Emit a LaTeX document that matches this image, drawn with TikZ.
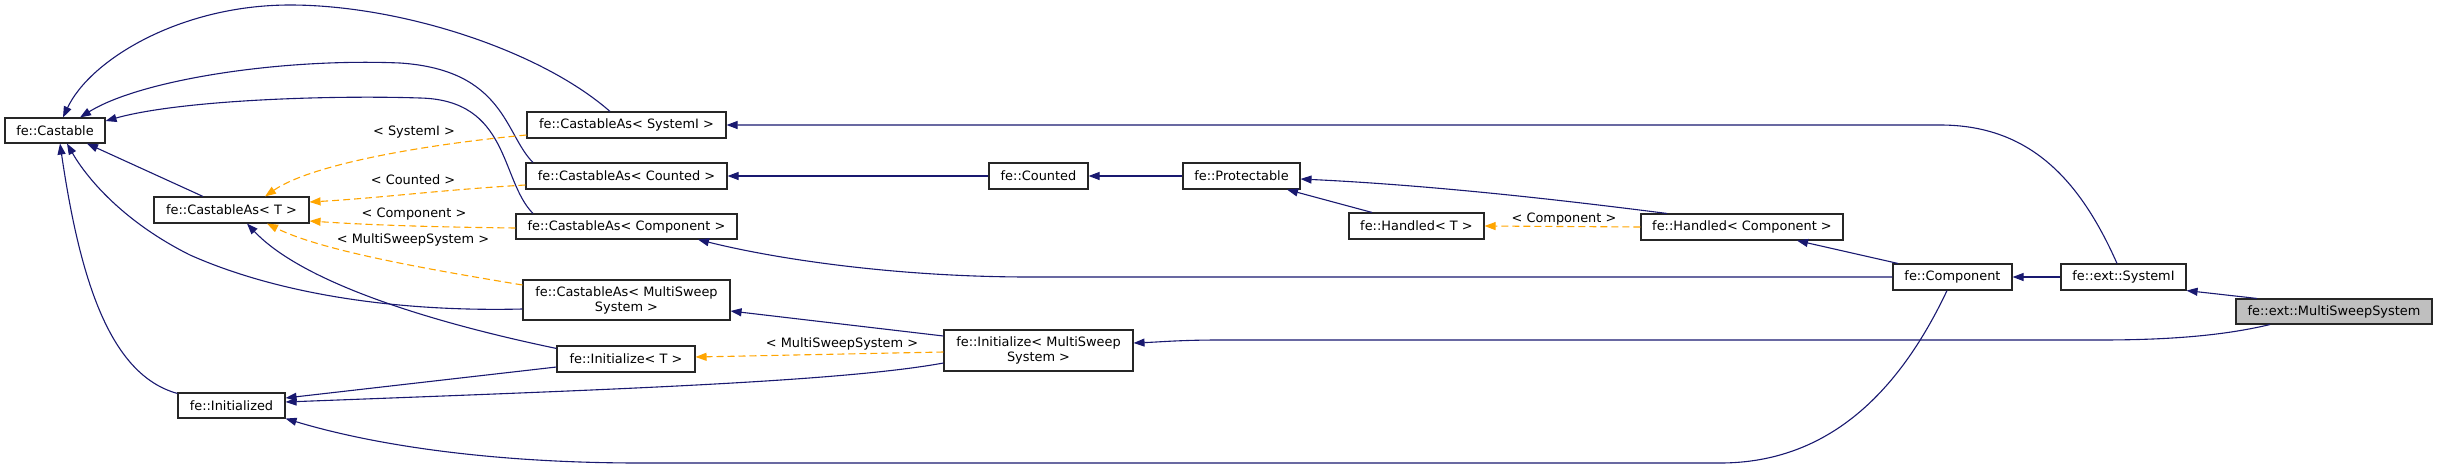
\documentclass[tikz,border=0pt]{standalone}
\usepackage{fontspec}
\setmainfont{DejaVu Sans}
\usetikzlibrary{arrows.meta}
\definecolor{edgeblue}{HTML}{191970}
\definecolor{tmplorange}{HTML}{FFA500}
\definecolor{nodegray}{HTML}{BFBFBF}
\begin{document}
\begin{tikzpicture}[x=1pt,y=-1pt,
  box/.style={draw=black!85, line width=1.1pt, fill=white, inner sep=0pt,
    font=\fontsize{12.9}{15}\selectfont, align=center},
  inh/.style={draw=edgeblue, line width=1.1pt, -{Triangle[length=11pt,width=8pt]}},
  tmpl/.style={draw=tmplorange, line width=1.1pt, dash pattern=on 7pt off 4pt,
    -{Triangle[length=11pt,width=8pt]}},
  lbl/.style={font=\fontsize{12.9}{15}\selectfont, inner sep=0pt}]
\useasboundingbox (0,0) rectangle (2437,469);

% nodes
\node[box, minimum width=100pt, minimum height=25pt] (castable) at (55,130.5) {fe::Castable};
\node[box, minimum width=155pt, minimum height=26pt] (castT) at (231.5,210) {fe::CastableAs< T >};
\node[box, minimum width=199pt, minimum height=26pt] (castSys) at (626.5,125) {fe::CastableAs< SystemI >};
\node[box, minimum width=201pt, minimum height=26pt] (castCnt) at (626.5,176) {fe::CastableAs< Counted >};
\node[box, minimum width=221pt, minimum height=25pt] (castComp) at (626.5,226.5) {fe::CastableAs< Component >};
\node[box, minimum width=207pt, minimum height=40pt] (castMSS) at (626.5,300) {fe::CastableAs< MultiSweep\\System >};
\node[box, minimum width=138pt, minimum height=26pt] (initT) at (626,359) {fe::Initialize< T >};
\node[box, minimum width=107pt, minimum height=25pt] (initd) at (231.5,405.5) {fe::Initialized};
\node[box, minimum width=99pt, minimum height=26pt] (counted) at (1038.5,176) {fe::Counted};
\node[box, minimum width=117pt, minimum height=26pt] (protect) at (1241.5,176) {fe::Protectable};
\node[box, minimum width=135pt, minimum height=26pt] (handT) at (1416.5,226) {fe::Handled< T >};
\node[box, minimum width=189pt, minimum height=41pt] (initMSS) at (1038.5,350.5) {fe::Initialize< MultiSweep\\System >};
\node[box, minimum width=202pt, minimum height=26pt] (handComp) at (1742,227) {fe::Handled< Component >};
\node[box, minimum width=119pt, minimum height=26pt] (comp) at (1952.5,277) {fe::Component};
\node[box, minimum width=125pt, minimum height=26pt] (sysI) at (2123.5,277) {fe::ext::SystemI};
\node[box, fill=nodegray, minimum width=196pt, minimum height=25pt] (mss) at (2334,311.5) {fe::ext::MultiSweepSystem};

% inheritance edges into fe::Castable
\draw[inh] ([xshift=-16.5pt]castSys.north) .. controls (540,50) and (400,5) .. (290,5)
  .. controls (180,5) and (90,60) .. ([xshift=8pt]castable.north);
\draw[inh] ([xshift=-93.5pt]castCnt.north) .. controls (505,135) and (505,70) .. (400,63)
  .. controls (280,58) and (140,80) .. ([xshift=25pt]castable.north);
\draw[inh] ([xshift=-93.5pt]castComp.north) .. controls (500,180) and (510,100) .. (420,98)
  .. controls (330,95) and (180,100) .. ([yshift=9.5pt]castable.east);
\draw[inh] ([xshift=-28.5pt]castT.north) -- ([xshift=32pt]castable.south);
\draw[inh] ([yshift=-9pt]castMSS.west) .. controls (400,312) and (280,295) .. (190,255)
  .. controls (120,220) and (85,175) .. ([xshift=12pt]castable.south);
\draw[inh] ([yshift=-1pt]initd.north west) .. controls (110,375) and (80,280) .. ([xshift=5pt]castable.south);

% into fe::CastableAs< T >
\draw[inh] ([yshift=-3pt]initT.north west) .. controls (420,320) and (300,280) .. ([xshift=15.5pt]castT.south);
\draw[tmpl] ([yshift=-10pt]castSys.west) .. controls (420,145) and (310,165) .. ([xshift=33.5pt]castT.north);
\draw[tmpl] ([yshift=-9pt]castCnt.west) .. controls (440,190) and (380,198) .. ([yshift=8pt]castT.east);
\draw[tmpl] ([yshift=-1.5pt]castComp.west) .. controls (430,227) and (370,225) .. ([yshift=-11pt]castT.east);
\draw[tmpl] ([yshift=15pt]castMSS.west) .. controls (420,268) and (320,250) .. ([xshift=35.5pt]castT.south);

\node[lbl] (lSys) at (414,132) {< SystemI >};
\node[lbl] (lCnt) at (413,180) {< Counted >};
\node[lbl] (lComp) at (414,214) {< Component >};
\node[lbl] (lMSS1) at (413,240) {< MultiSweepSystem >};

% Initialize edges
\draw[tmpl] ([yshift=-1.5pt]initMSS.west) -- ([yshift=2pt]initT.east);
\node[lbl] (lMSS2) at (842,344) {< MultiSweepSystem >};
\draw[inh] ([yshift=-8pt]initT.west) -- ([yshift=7.5pt]initd.east);
\draw[inh] ([yshift=-12.5pt]initMSS.west) .. controls (840,382) and (600,390) .. ([yshift=3.5pt]initd.east);
\draw[inh] ([yshift=14.5pt]initMSS.west) -- ([yshift=-11pt]castMSS.east);

% Counted / Protectable / Handled
\draw[inh] (counted.west) -- (castCnt.east);
\draw[inh] (protect.west) -- (counted.east);
\draw[inh] ([xshift=-44.5pt]handT.north) -- ([xshift=45.5pt]protect.south);
\draw[inh] ([xshift=-75pt]handComp.north) .. controls (1600,205) and (1450,186) .. ([yshift=-3pt]protect.east);
\draw[tmpl] (handComp.west) -- (handT.east);
\node[lbl] (lHand) at (1564,219) {< Component >};

% Component
\draw[inh] ([xshift=-54.5pt]comp.north) -- ([xshift=55pt]handComp.south);
\draw[inh] (comp.west) -- (1030,277) .. controls (900,277) and (780,260) .. ([xshift=71.5pt]castComp.south);
\draw[inh] ([xshift=-5.5pt]comp.south) .. controls (1900,390) and (1830,463) .. (1720,463) -- (640,463)
  .. controls (500,463) and (380,447) .. (initd.south east);

% SystemI
\draw[inh] (sysI.west) -- (comp.east);
\draw[inh] ([xshift=-6.5pt]sysI.north) .. controls (2080,180) and (2030,125) .. (1940,125) -- (castSys.east);

% MultiSweepSystem
\draw[inh] ([xshift=-77pt]mss.north) -- (sysI.south east);
\draw[inh] ([xshift=-64pt]mss.south) .. controls (2230,334) and (2180,340) .. (2100,340) -- (1220,340)
  .. controls (1180,340) and (1160,342) .. ([yshift=7.5pt]initMSS.east);
\end{tikzpicture}
\end{document}
